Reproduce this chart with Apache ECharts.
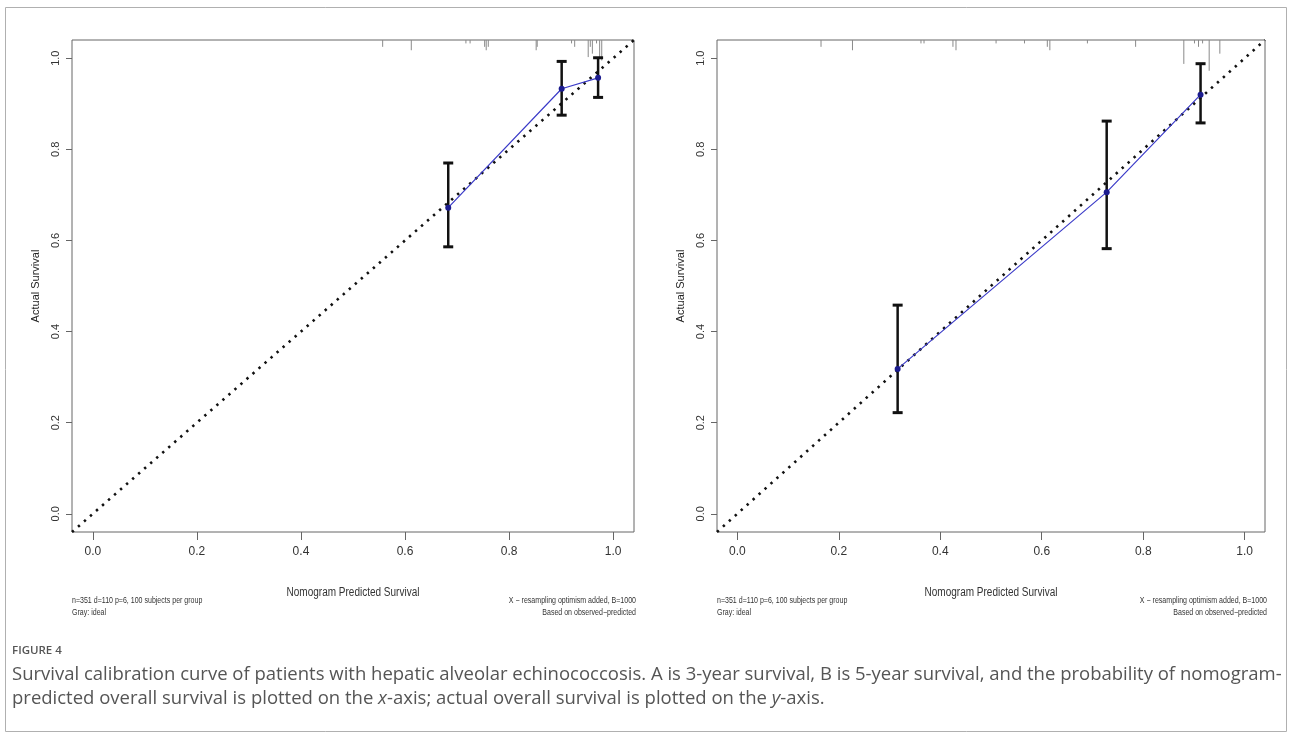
<!DOCTYPE html>
<html>
<head>
<meta charset="utf-8">
<script src="https://cdn.jsdelivr.net/npm/echarts@6/dist/echarts.min.js"></script>
<style>
html,body{margin:0;padding:0;background:#fff;}
#c{width:1292px;height:736px;}
</style>
</head>
<body>
<div id="c"></div>
<script>
// ---------- data ----------
const tickValues = [0, 0.2, 0.4, 0.6, 0.8, 1.0];
const axisRange = [-0.04, 1.04];
const idealLine = [-0.04, 1.04];

// Panel A: 3-year survival
const predA = [0.683, 0.901, 0.971];
const obsA  = [0.672, 0.933, 0.957];
const lowA  = [0.586, 0.875, 0.914];
const highA = [0.770, 0.993, 1.001];
const rugPosA   = [0.557, 0.612, 0.717, 0.725, 0.753, 0.756, 0.760, 0.852, 0.854, 0.920, 0.926, 0.952, 0.956, 0.960, 0.968, 0.974, 0.978];
const rugCountA = [2, 3, 1, 1, 2, 3, 2, 3, 2, 1, 2, 5, 2, 4, 1, 5, 6];

// Panel B: 5-year survival
const predB = [0.316, 0.728, 0.913];
const obsB  = [0.318, 0.706, 0.920];
const lowB  = [0.222, 0.582, 0.858];
const highB = [0.458, 0.862, 0.988];
const rugPosB   = [0.165, 0.227, 0.362, 0.368, 0.425, 0.431, 0.510, 0.566, 0.611, 0.616, 0.690, 0.785, 0.880, 0.901, 0.909, 0.917, 0.930, 0.951];
const rugCountB = [2, 3, 1, 1, 2, 3, 1, 1, 2, 3, 1, 2, 7, 1, 2, 1, 9, 4];

const xTitle = 'Nomogram Predicted Survival';
const yTitle = 'Actual Survival';
const subLeft = ['n=351 d=110 p=6, 100 subjects per group', 'Gray: ideal'];
const subRight = ['X \u2212 resampling optimism added, B=1000', 'Based on observed\u2212predicted'];
const figLabel = 'FIGURE 4';
const caption1 = 'Survival calibration curve of patients with hepatic alveolar echinococcosis. A is 3-year survival, B is 5-year survival, and the probability of nomogram-';
const caption2 = 'predicted overall survival is plotted on the {i|x}-axis; actual overall survival is plotted on the {i|y}-axis.';

// ---------- styles ----------
const arial = "'Liberation Sans', Arial, sans-serif";
const NARROW = 0.8;
const RUG_UNIT = 0.0075;

const grids = [
  {left: 72, top: 40, width: 562, height: 492},
  {left: 717, top: 40, width: 548, height: 492}
];

function makeX(i) {
  return {
    type: 'value', gridIndex: i, min: axisRange[0], max: axisRange[1],
    axisLine: {show: false, onZero: false},
    splitLine: {show: false},
    axisTick: {show: true, inside: false, length: 8, customValues: tickValues, lineStyle: {color: '#666'}},
    axisLabel: {customValues: tickValues, margin: 14, fontFamily: arial, fontSize: 12, color: '#333',
      formatter: v => v.toFixed(1)}
  };
}
function makeY(i) {
  return {
    type: 'value', gridIndex: i, min: axisRange[0], max: axisRange[1],
    name: yTitle, nameLocation: 'middle', nameGap: 31,
    nameTextStyle: {fontFamily: arial, fontSize: 11, color: '#222'},
    axisLine: {show: false, onZero: false},
    splitLine: {show: false},
    axisTick: {show: true, inside: false, length: 6, customValues: tickValues, lineStyle: {color: '#666'}},
    axisLabel: {customValues: tickValues, rotate: 90, margin: 11, fontFamily: arial, fontSize: 11, color: '#333',
      formatter: v => v.toFixed(1)}
  };
}

function rugSeries(i, pos, cnt) {
  return {
    type: 'custom', xAxisIndex: i, yAxisIndex: i, silent: true, z: 1,
    data: pos.map((p, k) => [p, cnt[k]]),
    renderItem: (params, api) => {
      const x = api.value(0), c = api.value(1);
      const p1 = api.coord([x, axisRange[1]]);
      const p2 = api.coord([x, axisRange[1] - c * RUG_UNIT]);
      return {type: 'line', shape: {x1: p1[0], y1: p1[1], x2: p2[0], y2: p2[1]},
        style: {stroke: '#8a8a8a', lineWidth: 1}};
    }
  };
}
function errSeries(i, pred, low, high) {
  return {
    type: 'custom', xAxisIndex: i, yAxisIndex: i, silent: true, z: 3,
    data: pred.map((p, k) => [p, low[k], high[k]]),
    renderItem: (params, api) => {
      const x = api.value(0);
      const lo = api.coord([x, api.value(1)]);
      const hi = api.coord([x, api.value(2)]);
      const cw = 5;
      return {type: 'group', children: [
        {type: 'line', shape: {x1: lo[0], y1: lo[1], x2: hi[0], y2: hi[1]}, style: {stroke: '#111', lineWidth: 2.5}},
        {type: 'line', shape: {x1: lo[0] - cw, y1: lo[1], x2: lo[0] + cw, y2: lo[1]}, style: {stroke: '#111', lineWidth: 3}},
        {type: 'line', shape: {x1: hi[0] - cw, y1: hi[1], x2: hi[0] + cw, y2: hi[1]}, style: {stroke: '#111', lineWidth: 3}}
      ]};
    }
  };
}
function idealSeries(i) {
  return {
    type: 'line', xAxisIndex: i, yAxisIndex: i, silent: true, z: 2,
    data: [[idealLine[0], idealLine[0]], [idealLine[1], idealLine[1]]],
    showSymbol: false, symbol: 'none',
    lineStyle: {color: '#111', width: 2.6, type: [2.4, 5.6], cap: 'butt'}
  };
}
function calSeries(i, pred, obs) {
  return {
    type: 'line', xAxisIndex: i, yAxisIndex: i, silent: true, z: 4,
    data: pred.map((p, k) => [p, obs[k]]),
    symbol: 'circle', symbolSize: 6, showSymbol: true,
    itemStyle: {color: '#1c1c8f'},
    lineStyle: {color: '#3b3bc8', width: 1.2}
  };
}

function narrowText(x, y, text, size, align) {
  return {type: 'text', x: x, y: y, scaleX: NARROW, silent: true,
    style: {text: text, fontFamily: arial, fontSize: size, fill: '#333', textAlign: align, textVerticalAlign: 'middle'}};
}
function panelTexts(g) {
  const x0 = g.left, x1 = g.left + g.width + 2, xc = g.left + g.width / 2;
  const out = [narrowText(xc, 593, xTitle, 12.5, 'center')];
  subLeft.forEach((t, k) => out.push(narrowText(x0, 601 + k * 12, t, 8.8, 'left')));
  subRight.forEach((t, k) => out.push(narrowText(x1, 601 + k * 12, t, 8.8, 'right')));
  return out;
}

const chart = echarts.init(document.getElementById('c'), null, {renderer: 'canvas'});
const capFont = "'Open Sans', 'Noto Sans', sans-serif";
const capSize = 18.5;
chart.setOption({
  animation: false,
  backgroundColor: '#fff',
  grid: grids.map(g => Object.assign({show: true, borderColor: '#666', borderWidth: 1, backgroundColor: 'transparent'}, g)),
  xAxis: [makeX(0), makeX(1)],
  yAxis: [makeY(0), makeY(1)],
  series: [
    rugSeries(0, rugPosA, rugCountA), idealSeries(0), errSeries(0, predA, lowA, highA), calSeries(0, predA, obsA),
    rugSeries(1, rugPosB, rugCountB), idealSeries(1), errSeries(1, predB, lowB, highB), calSeries(1, predB, obsB)
  ],
  graphic: [
    {type: 'rect', silent: true, shape: {x: 5.5, y: 7.5, width: 1281, height: 724},
      style: {fill: 'none', stroke: '#b0b0b0', lineWidth: 1}},
    ...panelTexts(grids[0]),
    ...panelTexts(grids[1]),
    {type: 'text', x: 12, y: 651, silent: true, style: {text: figLabel, fontFamily: capFont, fontSize: 11.5, fontWeight: 600, fill: '#555', textVerticalAlign: 'middle'}},
    {type: 'text', x: 12, y: 675, silent: true, style: {text: caption1, fontFamily: capFont, fontSize: capSize, fill: '#555', textVerticalAlign: 'middle'}},
    {type: 'text', x: 12, y: 699, silent: true, style: {text: caption2, fontFamily: capFont, fontSize: capSize, fill: '#555', textVerticalAlign: 'middle',
      rich: {i: {fontStyle: 'italic', fontFamily: capFont, fontSize: capSize, fill: '#555'}}}}
  ]
});
</script>
</body>
</html>
